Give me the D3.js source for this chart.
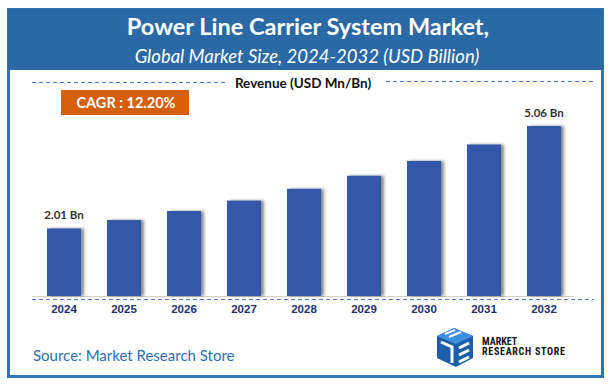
<!DOCTYPE html>
<meta charset="utf-8">
<style>
body { margin: 0; background: #fff; }
svg { display: block; font-family: Lato, "Open Sans", sans-serif; }
.year text { fill: #1f3070; font-size: 11.5px; font-weight: bold; }
</style>
<body>
<script src="https://cdn.jsdelivr.net/npm/d3@7"></script>
<script>
// values (USD Billion)
var years = ["2024", "2025", "2026", "2027", "2028", "2029", "2030", "2031", "2032"];
var revenue = [2.01, 2.26, 2.53, 2.84, 3.19, 3.58, 4.02, 4.51, 5.06];
var barLabels = {"2024": "2.01 Bn", "2032": "5.06 Bn"};
var title = "Power Line Carrier System Market,";
var subtitle = "Global Market Size, 2024-2032 (USD Billion)";
var cagr = "CAGR : 12.20%";

var W = 612, H = 388;
var svg = d3.select("body").append("svg")
    .attr("width", W)
    .attr("height", H);

var defs = svg.append("defs");
var f = defs.append("filter").attr("id", "shadow")
    .attr("x", "-20%").attr("y", "-10%").attr("width", "160%").attr("height", "120%");
f.append("feDropShadow").attr("dx", 3).attr("dy", 0).attr("stdDeviation", 1.6)
    .attr("flood-color", "#000").attr("flood-opacity", 0.45);

// frame + header
svg.append("rect").attr("x", 8.5).attr("y", 9.5).attr("width", 594).attr("height", 367)
    .attr("fill", "#fff").attr("stroke", "#2e75b6").attr("stroke-width", 3);
svg.append("rect").attr("x", 8).attr("y", 9).attr("width", 595).attr("height", 61)
    .attr("fill", "#2b69a6");
svg.append("text").attr("x", 308).attr("y", 35).attr("text-anchor", "middle")
    .attr("fill", "#fff").attr("font-size", 23.5).attr("font-weight", "bold")
    .text(title);
svg.append("text").attr("x", 307).attr("y", 63).attr("text-anchor", "middle")
    .attr("fill", "#fff").attr("font-size", 18.5).attr("font-style", "italic")
    .text(subtitle);

// legend line
svg.append("line").attr("x1", 32).attr("x2", 226).attr("y1", 82.5).attr("y2", 82.5)
    .attr("stroke", "#4a7fd0").attr("stroke-dasharray", "4,3");
svg.append("line").attr("x1", 386).attr("x2", 594).attr("y1", 81.5).attr("y2", 81.5)
    .attr("stroke", "#4a7fd0").attr("stroke-dasharray", "4,3");
svg.append("text").attr("x", 303).attr("y", 88).attr("text-anchor", "middle")
    .attr("font-size", 13.5).attr("font-weight", "bold").attr("fill", "#111")
    .text("Revenue (USD Mn/Bn)");

// CAGR badge
svg.append("rect").attr("x", 61).attr("y", 90).attr("width", 128).attr("height", 25)
    .attr("fill", "#d4600e");
svg.append("text").attr("x", 126).attr("y", 107.5).attr("text-anchor", "middle")
    .attr("fill", "#fff").attr("font-size", 14.5).attr("font-weight", "bold")
    .text(cagr);

// scales
var x = d3.scaleBand().domain(years).range([34, 574])
    .paddingInner(0.433).paddingOuter(0.2167);
var y = d3.scaleLinear().domain([0, 5.06]).range([296, 126]);

// baseline
svg.append("line").attr("x1", 32).attr("x2", 574).attr("y1", 296.5).attr("y2", 296.5)
    .attr("stroke", "#d0d0d0").attr("stroke-width", 1.2);
svg.append("line").attr("x1", 32).attr("x2", 594).attr("y1", 299.5).attr("y2", 299.5)
    .attr("stroke", "#4a7fd0").attr("stroke-dasharray", "4,3");

svg.append("g").selectAll("rect")
    .data(revenue)
  .enter().append("rect")
    .attr("x", function(d, i) { return x(years[i]); })
    .attr("y", function(d) { return y(d); })
    .attr("width", x.bandwidth())
    .attr("height", function(d) { return y(0) - y(d); })
    .attr("fill", "#3258a7")
    .attr("filter", "url(#shadow)");

svg.append("g").selectAll("text")
    .data(years.filter(function(yr) { return barLabels[yr]; }))
  .enter().append("text")
    .attr("x", function(yr) { return x(yr) + x.bandwidth() / 2; })
    .attr("y", function(yr) { return y(revenue[years.indexOf(yr)]) - 9; })
    .attr("text-anchor", "middle")
    .attr("font-size", 11.5).attr("font-weight", "bold").attr("fill", "#333")
    .text(function(yr) { return barLabels[yr]; });

// x axis labels
var ax = svg.append("g").attr("class", "year")
    .attr("transform", "translate(0,300)")
    .call(d3.axisBottom(x).tickSize(0).tickPadding(5));
ax.select(".domain").remove();

// source
svg.append("text").attr("x", 33).attr("y", 361)
    .attr("font-size", 15).attr("fill", "#2e6db4")
    .text("Source: Market Research Store");

// logo
var logo = svg.append("g").attr("transform", "translate(437,328)");
logo.append("polygon").attr("points", "0,8 17,0 36,8 36,30 19,39 0,30").attr("fill", "#1d5ea8");
logo.append("polygon").attr("points", "0,8 17,0 36,8 19,16").attr("fill", "#3f8fe0");
logo.append("path").attr("d", "M4,14 L15,19 L15,35 M22,20 L32,15 M22,27 L32,22 M22,34 L32,29")
    .attr("stroke", "#fff").attr("stroke-width", 3).attr("fill", "none");
logo.append("path").attr("d", "M8,6 L18,2 M12,9 L24,4")
    .attr("stroke", "#fff").attr("stroke-width", 2).attr("fill", "none");
svg.append("text").attr("x", 482).attr("y", 345)
    .attr("font-size", 10).attr("font-weight", "bold").attr("fill", "#111")
    .attr("font-family", "'Roboto Condensed', Roboto, sans-serif")
    .text("MARKET");
svg.append("text").attr("x", 482).attr("y", 355)
    .attr("font-size", 10).attr("font-weight", "bold").attr("fill", "#111")
    .attr("font-family", "'Roboto Condensed', Roboto, sans-serif")
    .attr("textLength", 83)
    .text("RESEARCH STORE");
</script>
